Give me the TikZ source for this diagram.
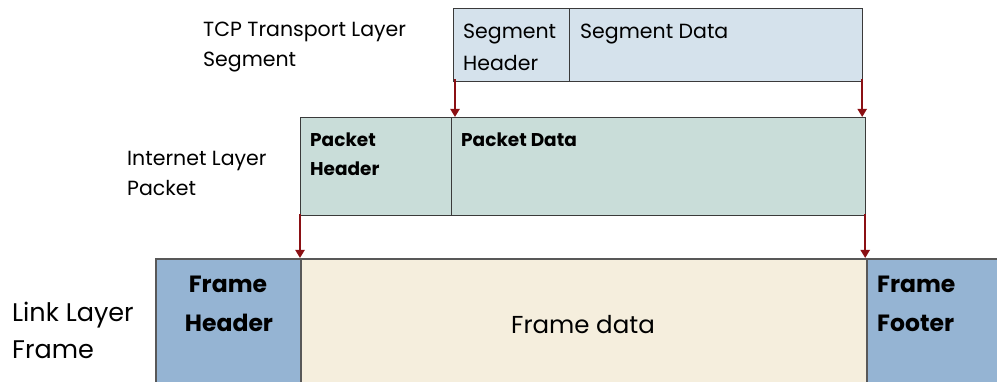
\documentclass[tikz,border=0pt]{standalone}
\usepackage{fontspec}
\setmainfont{Poppins}
\usetikzlibrary{arrows.meta}
\definecolor{segfill}{HTML}{D5E2EC}
\definecolor{pktfill}{HTML}{C9DDD9}
\definecolor{frmfill}{HTML}{95B4D3}
\definecolor{datfill}{HTML}{F5EEDD}
\definecolor{arrred}{HTML}{8B1014}
\definecolor{edge}{HTML}{3A3A3A}
\tikzset{
  box/.style={draw=edge, line width=1.2pt, inner sep=0pt, anchor=north west},
  fbox/.style={draw=edge!85, line width=1.6pt, inner sep=0pt, anchor=north west},
  lbl/.style={anchor=base west, inner sep=0pt, font=\fontsize{20.5}{24}\selectfont},
  seglbl/.style={anchor=base west, inner sep=0pt, font=\fontsize{20.5}{24}\selectfont},
  pktlbl/.style={anchor=base west, inner sep=0pt, font=\fontsize{18.5}{22}\selectfont\bfseries},
  frmlbl/.style={anchor=base, inner sep=0pt, font=\fontsize{23.5}{28}\selectfont\bfseries},
  biglbl/.style={anchor=base west, inner sep=0pt, font=\fontsize{25.5}{30}\selectfont},
  arr/.style={draw=arrred, line width=2.4pt, -{Triangle[length=8pt,width=9pt]}}
}
\begin{document}
\begin{tikzpicture}[x=1pt,y=-1pt]
\useasboundingbox (0,0) rectangle (997,382);
\clip (0,0) rectangle (997,382);
% segment
\node[box, fill=segfill, minimum width=116pt, minimum height=73pt] (segh) at (453,8) {};
\node[box, fill=segfill, minimum width=293pt, minimum height=73pt] (segd) at (569,8) {};
% packet
\node[box, fill=pktfill, minimum width=151pt, minimum height=98pt] (pkth) at (300,117) {};
\node[box, fill=pktfill, minimum width=414pt, minimum height=98pt] (pktd) at (451,117) {};
% frame
\node[fbox, fill=frmfill, minimum width=145pt, minimum height=140pt] (frmh) at (155,258) {};
\node[fbox, fill=datfill, minimum width=566pt, minimum height=140pt] (frmd) at (300,258) {};
\node[fbox, fill=frmfill, minimum width=150pt, minimum height=140pt] (frmf) at (866,258) {};
% labels
\node[lbl] (t1) at (203,37) {TCP Transport Layer};
\node[lbl] (t2) at (203,67) {Segment};
\node[seglbl] (s1) at (463,39) {Segment};
\node[seglbl] (s2) at (463,71) {Header};
\node[seglbl] (s3) at (580,39) {Segment Data};
\node[lbl] (i1) at (127,166) {Internet Layer};
\node[lbl] (i2) at (127,196) {Packet};
\node[pktlbl] (p1) at (310,147) {Packet};
\node[pktlbl] (p2) at (310,176) {Header};
\node[pktlbl] (p3) at (461,147) {Packet Data};
\node[biglbl] (l1) at (12,322) {Link Layer};
\node[biglbl] (l2) at (12,359) {Frame};
\node[frmlbl] (f1) at (228,293) {Frame};
\node[frmlbl] (f2) at (229,332) {Header};
\node[frmlbl, anchor=base west] (f3) at (877,293) {Frame};
\node[frmlbl, anchor=base west] (f4) at (877,332) {Footer};
\node[anchor=base, inner sep=0pt, font=\fontsize{24.5}{30}\selectfont] (fd) at (583,334) {Frame data};
% arrows
\coordinate (a1) at ([xshift=2pt,yshift=3pt]segh.south west);
\coordinate (a2) at ([xshift=-1pt,yshift=3pt]segd.south east);
\draw[arr] (a1) -- (a1 |- pktd.north);
\draw[arr] (a2) -- (a2 |- pktd.north);
\coordinate (b1) at ([yshift=2pt]pkth.south west);
\coordinate (b2) at ([xshift=-1pt,yshift=2pt]pktd.south east);
\draw[arr] (b1) -- (b1 |- frmd.north);
\draw[arr] (b2) -- (b2 |- frmd.north);
\end{tikzpicture}
\end{document}
